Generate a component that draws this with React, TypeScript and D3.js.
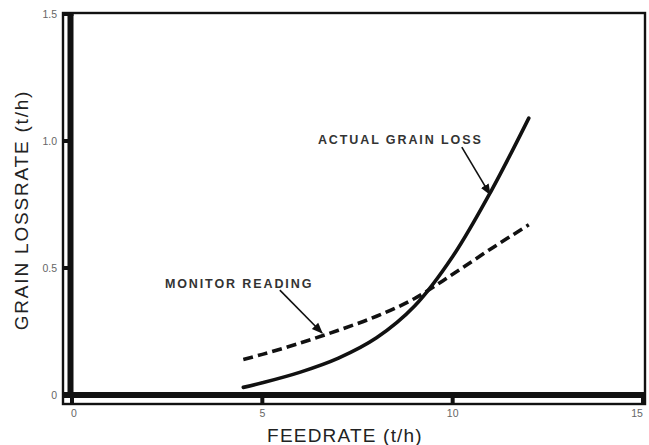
import React from 'react';
import * as d3 from 'd3';

// feedrate (t/h) sample points
const feedrate = [4.5, 5, 6, 7, 8, 9, 10, 11, 12];
const actualLoss = [0.03, 0.048, 0.09, 0.145, 0.225, 0.35, 0.545, 0.8, 1.09];
const monitorReading = [0.14, 0.16, 0.205, 0.255, 0.31, 0.38, 0.475, 0.575, 0.67];

const xTicks = [0, 5, 10, 15];
const yTicks = [0, 0.5, 1.0, 1.5];
const yTickLabels = ['0', '0.5', '1.0', '1.5'];

// annotation label + arrow, in data units
const annotations = [
  { text: 'ACTUAL GRAIN LOSS', tx: 6.46, ty: 0.988, from: [10.24, 0.976], to: [10.98, 0.79] },
  { text: 'MONITOR READING', tx: 2.44, ty: 0.421, from: [5.46, 0.413], to: [6.57, 0.244] },
];

const W = 649, H = 445;
const font = '"Liberation Sans", Arial, sans-serif';

export default function App() {
  // 设置比例尺
  const x = d3.scaleLinear().domain([0, 15]).range([72, 643]);
  const y = d3.scaleLinear().domain([0, 1.5]).range([395, 14]);

  const line = d3.line<number>()
    .curve(d3.curveCatmullRom.alpha(0.5))
    .x((_, i) => x(feedrate[i]))
    .y(d => y(d));

  const left = 63, right = 645, top = 13, bottom = 404;
  const barX = x(0) - 1.5, barY = y(0);

  return (
    <svg width={W} height={H} style={{ position: 'absolute', left: 0, top: 0, background: '#fff' }}>
      <defs>
        <marker id="arr" viewBox="0 0 10 10" refX="9" refY="5" markerWidth="7" markerHeight="7" orient="auto">
          <path d="M0,1 L10,5 L0,9 Z" fill="#111" />
        </marker>
      </defs>

      {/* outer thin frame */}
      <rect x={left} y={top} width={right - left} height={bottom - top} fill="none" stroke="#111" strokeWidth={2.4} />
      {/* heavy axis bars */}
      <rect x={barX - 3} y={top} width={6} height={barY + 3 - top} fill="#111" />
      <rect x={left} y={barY - 3} width={right - left} height={6} fill="#111" />
      <rect x={left} y={top - 1} width={barX + 3 - left} height={4} fill="#111" />

      {/* tick marks bridging the gap */}
      {yTicks.map(t => (
        <rect key={'yt' + t} x={left} y={y(t) - 2} width={barX - left} height={4} fill="#111" />
      ))}
      {xTicks.map(t => (
        <rect key={'xt' + t} x={x(t) - 2} y={barY} width={4} height={bottom - barY} fill="#111" />
      ))}

      {/* tick labels */}
      {yTicks.map((t, i) => (
        <text key={'yl' + t} x={57} y={y(t) + 4} textAnchor="end" fontFamily={font} fontSize={10.5} fill="#666">
          {yTickLabels[i]}
        </text>
      ))}
      {xTicks.map(t => (
        <text key={'xl' + t} x={x(t) + (t === 0 ? 2 : t === 15 ? -6 : 0)} y={417} textAnchor="middle" fontFamily={font} fontSize={10.5} fill="#666">
          {t}
        </text>
      ))}

      {/* axis titles */}
      <text x={345} y={442} textAnchor="middle" fontFamily={font} fontSize={19} letterSpacing={1.2} fill="#222">
        FEEDRATE (t/h)
      </text>
      <text transform="translate(28,210) rotate(-90)" textAnchor="middle" fontFamily={font} fontSize={19} letterSpacing={1.8} fill="#222">
        GRAIN LOSSRATE (t/h)
      </text>

      {/* curves */}
      <path d={line(actualLoss) || ''} fill="none" stroke="#111" strokeWidth={3.6} strokeLinecap="round" />
      <path d={line(monitorReading) || ''} fill="none" stroke="#111" strokeWidth={3.6} strokeDasharray="10,5" />

      {/* annotations */}
      {annotations.map(a => (
        <g key={a.text}>
          <text x={x(a.tx)} y={y(a.ty)} fontFamily={font} fontSize={12.5} fontWeight={600} letterSpacing={1.9} fill="#333">
            {a.text}
          </text>
          <line x1={x(a.from[0])} y1={y(a.from[1])} x2={x(a.to[0])} y2={y(a.to[1])}
            stroke="#111" strokeWidth={1.6} markerEnd="url(#arr)" />
        </g>
      ))}
    </svg>
  );
}
